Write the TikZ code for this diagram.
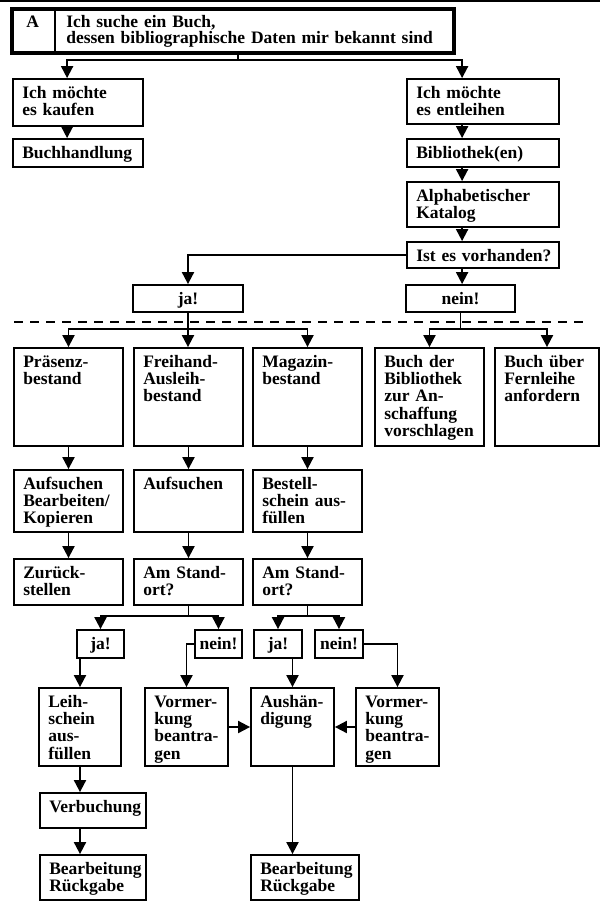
\documentclass[tikz,border=0pt]{standalone}
\usepackage{fontspec}
\setmainfont{Liberation Serif}
\usetikzlibrary{arrows.meta,fit}

\tikzset{
  boxst/.style={draw, line width=1.8pt, inner sep=0pt, rectangle},
  txt/.style={anchor=base west, inner sep=0pt, text width=200pt, align=left,
    font=\bfseries\fontsize{17.5}{17.3}\selectfont},
  ctxt/.style={anchor=base, inner sep=0pt,
    font=\bfseries\fontsize{17.5}{17.3}\selectfont},
  conn/.style={line width=1.9pt},
  arr/.style={conn, -{Triangle[width=12pt,length=12pt]}},
  sepline/.style={line width=1.5pt, dash pattern=on 9pt off 7pt},
}

% box with text set flush left from the top
\newcommand\bbox[6]{%
  \node[boxst, fit={(#2,#3)(#4,#5)}] (#1) {};
  \node[txt] (#1-t) at ([shift={(10,20)}]#1.north west) {#6};}
% box with centred text
\newcommand\cbox[6]{%
  \node[boxst, fit={(#2,#3)(#4,#5)}] (#1) {};
  \node[ctxt] (#1-t) at ([shift={(0,20)}]#1.north) {#6};}

\begin{document}
\begin{tikzpicture}[x=1pt,y=-1pt]
\useasboundingbox (0,0) rectangle (600,903);

% rule along the top edge
\draw[line width=2.5pt] (0,1.2) -- (600,1.2);

% heading
\node[draw, line width=3.8pt, inner sep=0pt, rectangle, fit={(12,9)(454,53)}] (title) {};
\draw[line width=1.8pt] ([xshift=45pt]title.north west) -- ([xshift=45pt]title.south west);
\node[ctxt] (title-a) at ([shift={(22.5,20)}]title.north west) {A};
\node[txt, text width=420pt, font=\bfseries\fontsize{17.5}{16}\selectfont] (title-t)
  at ([shift={(56,20)}]title.north west) {Ich suche ein Buch,\\dessen bibliographische Daten mir bekannt sind};

% upper part
\bbox{kaufen}{13}{79}{143}{126}{Ich möchte\\es kaufen}
\bbox{buch}{13}{139}{143}{167}{Buchhandlung}
\bbox{entl}{407}{79}{559}{124}{Ich möchte\\es entleihen}
\bbox{bib}{407}{139}{559}{167}{Bibliothek(en)}
\bbox{alph}{407}{182}{559}{227}{Alphabetischer\\Katalog}
\bbox{ist}{407}{242}{559}{268}{Ist es vorhanden?}
\cbox{ja}{133}{285}{243}{312}{ja!}
\cbox{nein}{406}{285}{515}{312}{nein!}

% separator
\draw[sepline] (14,322) -- (590,322);

% row of holdings
\bbox{praes}{14}{348}{123}{446}{Präsenz-\\bestand}
\bbox{frei}{134}{348}{243}{446}{Freihand-\\Ausleih-\\bestand}
\bbox{mag}{253}{348}{362}{446}{Magazin-\\bestand}
\bbox{buchder}{375}{348}{484}{446}{Buch der\\Bibliothek\\zur An-\\schaffung\\vorschlagen}
\bbox{fern}{495}{348}{599}{446}{Buch über\\Fernleihe\\anfordern}

\bbox{aufs1}{14}{470}{123}{532}{Aufsuchen\\Bearbeiten/\\Kopieren}
\bbox{aufs2}{134}{470}{243}{532}{Aufsuchen}
\bbox{bestell}{253}{470}{362}{532}{Bestell-\\schein aus-\\füllen}

\bbox{zur}{14}{559}{123}{605}{Zurück-\\stellen}
\bbox{am1}{134}{559}{243}{605}{Am Stand-\\ort?}
\bbox{am2}{253}{559}{362}{605}{Am Stand-\\ort?}

\cbox{ja1}{77}{630}{124}{658}{ja!}
\cbox{nein1}{195}{630}{242}{658}{nein!}
\cbox{ja2}{254}{630}{302}{658}{ja!}
\cbox{nein2}{315}{630}{363}{658}{nein!}

\bbox{leih}{39}{688}{121}{766}{Leih-\\schein\\aus-\\füllen}
\bbox{vorm1}{145}{688}{228}{766}{Vormer-\\kung\\beantra-\\gen}
\bbox{aush}{251}{688}{334}{766}{Aushän-\\digung}
\bbox{vorm2}{356}{688}{439}{766}{Vormer-\\kung\\beantra-\\gen}

\bbox{verb}{40}{793}{146}{828}{Verbuchung}
\bbox{bearb1}{40}{855}{146}{900}{Bearbeitung\\Rückgabe}
\bbox{bearb2}{251}{855}{359}{900}{Bearbeitung\\Rückgabe}

% connectors: heading
\coordinate (tj) at (238,60);
\draw[conn] (title.south -| tj) -- (tj);
\draw[arr] (tj) -| ([xshift=55pt]kaufen.north west);
\draw[arr] (tj) -| ([xshift=56pt]entl.north west);
\draw[arr] ([xshift=55pt]kaufen.south west) -- ([xshift=55pt]buch.north west);
\draw[arr] ([xshift=56pt]entl.south west) -- ([xshift=56pt]bib.north west);
\draw[arr] ([xshift=56pt]bib.south west) -- ([xshift=56pt]alph.north west);
\draw[arr] ([xshift=56pt]alph.south west) -- ([xshift=56pt]ist.north west);
\draw[arr] ([xshift=56pt]ist.south west) -- ([xshift=56pt]ist.south west |- nein.north);
\draw[arr] (ist.west) -| (ja.north);

% connectors: yes / no
\path (ja.south) ++(0,16) coordinate (jb);
\draw[conn] (ja.south) -- (jb);
\draw[arr] (jb) -| (praes.north);
\draw[arr] (jb) -- (jb |- frei.north);
\draw[arr] (jb) -| (mag.north);
\path (nein.south) ++(0,16) coordinate (nb);
\draw[conn] (nein.south) -- (nb);
\draw[arr] (nb) -| (buchder.north);
\draw[arr] (nb) -| (fern.north);

% connectors: columns
\draw[arr] (praes.south) -- (aufs1.north);
\draw[arr] (aufs1.south) -- (zur.north);
\draw[arr] (frei.south) -- (aufs2.north);
\draw[arr] (aufs2.south) -- (am1.north);
\draw[arr] (mag.south) -- (bestell.north);
\draw[arr] (bestell.south) -- (am2.north);

\path (am1.south) ++(0,10) coordinate (a1);
\draw[conn] (am1.south) -- (a1);
\draw[arr] (a1) -| (ja1.north);
\draw[arr] (a1) -| (nein1.north);
\path (am2.south) ++(0,10) coordinate (a2);
\draw[conn] (am2.south) -- (a2);
\draw[arr] (a2) -| (ja2.north);
\draw[arr] (a2) -| (nein2.north);

\draw[arr] (leih.north |- ja1.south) -- (leih.north);
\draw[arr] (nein1.west) -| (vorm1.north);
\draw[arr] (aush.north |- ja2.south) -- (aush.north);
\draw[arr] (nein2.east) -| (vorm2.north);
\draw[arr] (vorm1.east) -- (aush.west);
\draw[arr] (vorm2.west) -- (aush.east);
\draw[arr] (aush.south) -- (aush.south |- bearb2.north);
\draw[arr] (leih.south) -- (leih.south |- verb.north);
\draw[arr] (verb.south -| leih.south) -- (leih.south |- bearb1.north);
\end{tikzpicture}
\end{document}
